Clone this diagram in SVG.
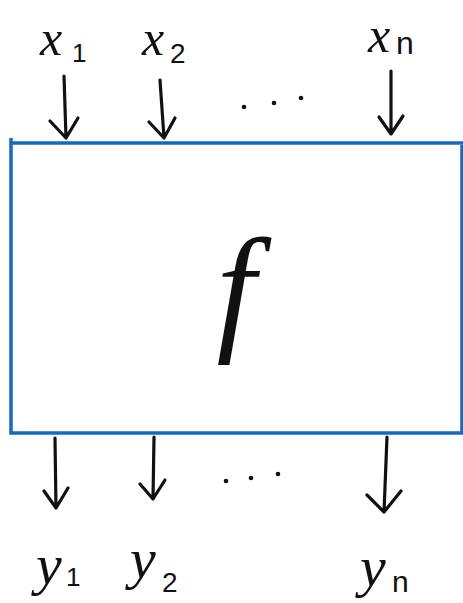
<svg xmlns="http://www.w3.org/2000/svg" width="463" height="603" viewBox="0 0 463 603">
<defs>
<style>
.lbl{font-family:"Liberation Serif",serif;font-style:italic;fill:#111}
.sub{font-family:"Liberation Sans",sans-serif;fill:#111}
.arr{stroke:#111;stroke-width:3.2;fill:none;stroke-linecap:round;stroke-linejoin:round}
.dot{fill:#111}
</style>
</defs>
<rect width="463" height="603" fill="#fff"/>
<g id="box">
<path d="M11,143 L463,143 M11,138 L11,433 L462,433 L462,145" stroke="#1668c2" stroke-width="3.5" fill="none"/>
<text class="lbl" x="236" y="335" font-size="140" text-anchor="middle">f</text>
</g>
<g id="inputs">
<text class="lbl" x="40" y="55" font-size="50">x</text>
<text class="sub" x="72" y="62" font-size="26">1</text>
<text class="lbl" x="142" y="55" font-size="50">x</text>
<text class="sub" x="170" y="63" font-size="28">2</text>
<text class="lbl" x="368" y="52" font-size="50">x</text>
<text class="sub" x="396" y="54" font-size="32">n</text>
</g>
<g id="outputs">
<text class="lbl" x="36" y="584" font-size="58">y</text>
<text class="sub" x="66" y="586" font-size="26">1</text>
<text class="lbl" x="130" y="578" font-size="58">y</text>
<text class="sub" x="162" y="592" font-size="28">2</text>
<text class="lbl" x="360" y="586" font-size="58">y</text>
<text class="sub" x="392" y="592" font-size="30">n</text>
</g>
<g id="connectors">
<path class="arr" d="M64,76 L66,138 M50,121 L66,138 L78,118"/>
<path class="arr" d="M160,80 L164,138 M149,122 L164,138 L175,118"/>
<path class="arr" d="M391,71 L391,134 M379,117 L391,134 L403,116"/>
<path class="arr" d="M55,438 L56,508 M44,491 L56,508 L68,488"/>
<path class="arr" d="M154,437 L153,499 M140,484 L153,499 L165,480"/>
<path class="arr" d="M387,437 L384,512 M367,495 L384,512 L401,491"/>
</g>
<g id="dots">
<circle class="dot" cx="244" cy="107" r="2.3"/>
<circle class="dot" cx="274" cy="103" r="2.3"/>
<circle class="dot" cx="301" cy="98" r="2.3"/>
<circle class="dot" cx="226" cy="481" r="2.3"/>
<circle class="dot" cx="251" cy="478" r="2.3"/>
<circle class="dot" cx="278" cy="474" r="2.3"/>
</g>
</svg>
